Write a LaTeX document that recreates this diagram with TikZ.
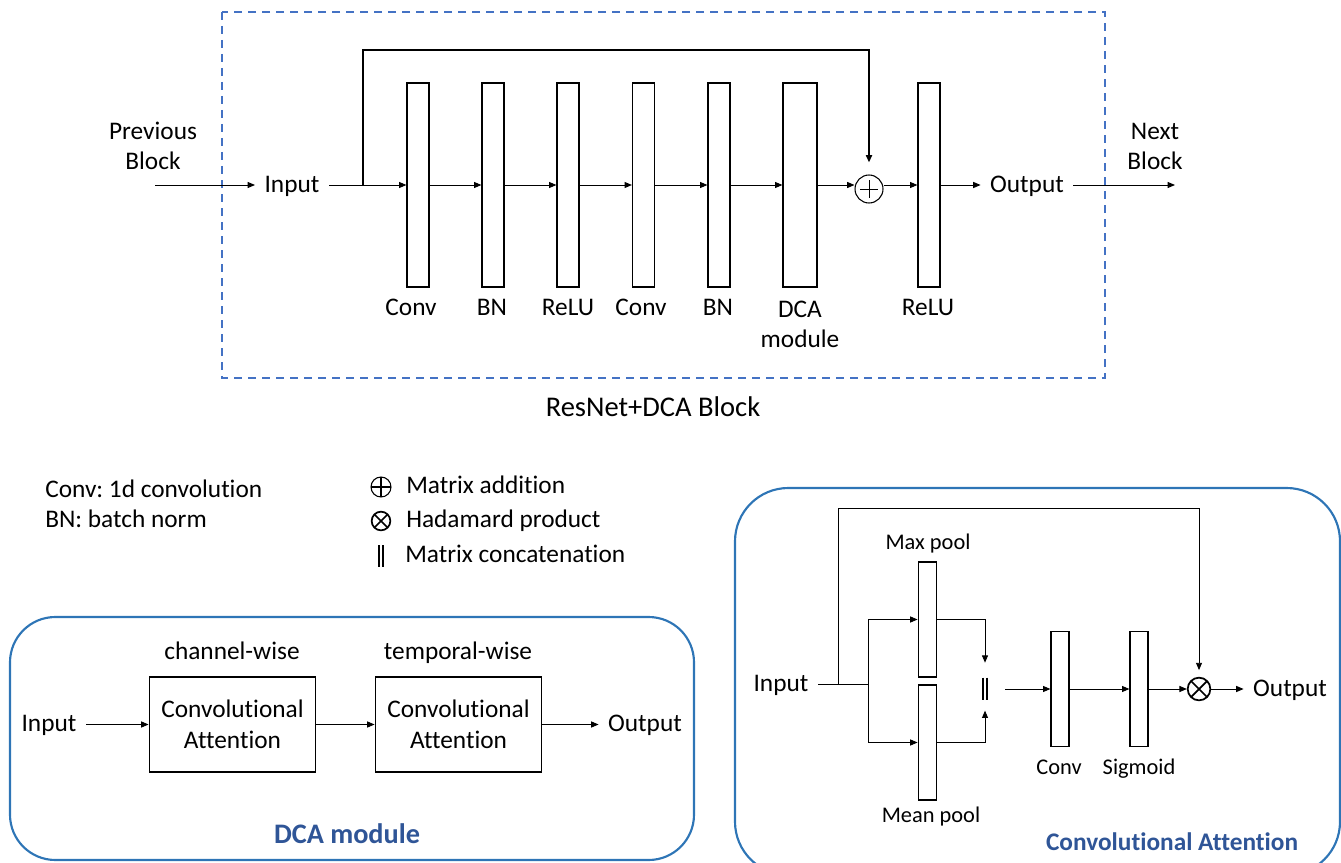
\documentclass[tikz,border=0pt]{standalone}
\usepackage{fontspec}
\setmainfont{Carlito}[Ligatures=NoCommon]
\usetikzlibrary{arrows.meta}
\definecolor{dashblue}{HTML}{4472C4}
\definecolor{frameblue}{HTML}{2E75B6}
\definecolor{titleblue}{HTML}{2F5597}
\frenchspacing
\begin{document}
\begin{tikzpicture}[x=0.75pt,y=-0.75pt,
  >={Triangle[length=5.5pt,width=4.5pt]},
  flow/.style={->, line width=0.7pt},
  plain/.style={line width=0.7pt},
  bar/.style={draw, fill=white, line width=0.9pt, inner sep=0, minimum width=16.5pt, minimum height=153pt},
  sbar/.style={draw, fill=white, line width=0.9pt, inner sep=0, minimum width=14pt, minimum height=86.25pt},
  txt/.style={inner xsep=7pt, inner ysep=0, text height=13pt, text depth=4pt, font=\fontsize{19}{22.5}\selectfont},
  mtxt/.style={inner xsep=7pt, inner ysep=0, align=center, font=\fontsize{19}{22.5}\selectfont},
  small/.style={inner sep=0, text height=12pt, text depth=3.5pt, font=\fontsize{16.8}{20}\selectfont},
  att/.style={draw, line width=0.9pt, minimum width=125pt, minimum height=71.25pt, inner sep=0, align=center, font=\fontsize{19}{23.25}\selectfont},
  oplus/.style={circle, draw, line width=0.8pt, inner sep=0, path picture={\draw[line width=0.8pt] (path picture bounding box.north) -- (path picture bounding box.south) (path picture bounding box.west) -- (path picture bounding box.east);}},
  addnode/.style={circle, draw, line width=0.8pt, inner sep=0, minimum size=21pt, path picture={\draw[line width=0.6pt] ([xshift=-6.5pt]path picture bounding box.center) -- ([xshift=6.5pt]path picture bounding box.center) ([yshift=-6.5pt]path picture bounding box.center) -- ([yshift=6.5pt]path picture bounding box.center);}},
  otimes/.style={circle, draw, line width=1.3pt, inner sep=0, path picture={\draw[line width=1.3pt] (path picture bounding box.north west) -- (path picture bounding box.south east) (path picture bounding box.north east) -- (path picture bounding box.south west);}},
  concat/.style={minimum width=6pt, inner sep=0, path picture={\draw[line width=1.2pt] ([xshift=-1.7pt]path picture bounding box.north) -- ([xshift=-1.7pt]path picture bounding box.south) ([xshift=1.7pt]path picture bounding box.north) -- ([xshift=1.7pt]path picture bounding box.south);}},
]
\useasboundingbox (0,0) rectangle (1341,863);

% ---------------- ResNet+DCA block ----------------
\draw[dashblue, line width=1.5pt, dash pattern=on 6pt off 4.5pt] (222,12) rectangle (1105,378);
\node[font=\fontsize{21.4}{25}\selectfont] (title1) at (653,407) {ResNet+DCA Block};

\node[mtxt] (prev) at (153,146) {Previous\\Block};
\coordinate (prevstart) at (155,185);
\node[txt] (in) at (292,186) {Input};

\node[bar] (c1) at (418,185) {};
\node[bar] (bn1) at (493,185) {};
\node[bar] (r1) at (568,185) {};
\node[bar] (c2) at (643.5,185) {};
\node[bar] (bn2) at (719,185) {};
\node[bar, minimum width=25.5pt] (dca) at (800,185) {};
\node[addnode] (add) at (869,189) {};
\node[bar] (r2) at (929,185) {};
\node[txt] (out) at (1027,186) {Output};
\node[mtxt] (next) at (1155,146) {Next\\Block};
\coordinate (nextend) at (1175,185);

\node[txt] (lc1) at (411,309) {Conv};
\node[txt] (lbn1) at (492,309) {BN};
\node[txt] (lr1) at (568,309) {ReLU};
\node[txt] (lc2) at (641,309) {Conv};
\node[txt] (lbn2) at (718,309) {BN};
\node[mtxt] (ldca) at (800,324) {DCA\\module};
\node[txt] (lr2) at (928,309) {ReLU};

\draw[flow] (prevstart) -- (prevstart -| in.west);
\draw[flow] (in.east |- c1.west) -- (c1.west);
\draw[flow] (c1.east) -- (bn1.west);
\draw[flow] (bn1.east) -- (r1.west);
\draw[flow] (r1.east) -- (c2.west);
\draw[flow] (c2.east) -- (bn2.west);
\draw[flow] (bn2.east) -- (dca.west);
\draw[flow] (dca.east) -- (dca.east -| add.west);
\draw[flow] (r2.west -| add.east) -- (r2.west);
\draw[flow] (r2.east) -- (r2.east -| out.west);
\draw[flow] (out.east |- nextend) -- (nextend);
\coordinate (sk) at (363,185);
\coordinate (sktop) at (869,50);
\draw[->, line width=1.3pt, shorten >=9pt] (sk) |- (sktop) -- (add.north);

% ---------------- Legend ----------------
\node[txt, anchor=west, inner xsep=0] (lg1) at (45,491) {Conv: 1d convolution};
\node[txt, anchor=west, inner xsep=0] (lg2) at (45,521) {BN: batch norm};
\node[oplus, minimum size=15pt] (sa) at (381,487) {};
\node[otimes, minimum size=14pt] (sm) at (381,521) {};
\node[concat, minimum height=16pt] (sc) at (381,556) {};
\node[txt, anchor=west, inner xsep=0] (la) at (406,487) {Matrix addition};
\node[txt, anchor=west, inner xsep=0] (lm) at (406,521) {Hadamard product};
\node[txt, anchor=west, inner xsep=0] (lcat) at (405,556) {Matrix concatenation};

% ---------------- DCA module ----------------
\draw[frameblue, line width=1.6pt, rounded corners=34pt] (10,617) rectangle (694,860);
\node[txt] (din) at (49,725) {Input};
\node[att] (ca1) at (232.5,724.5) {Convolutional\\Attention};
\node[att] (ca2) at (458.5,724.5) {Convolutional\\Attention};
\node[txt] (dout) at (645,725) {Output};
\node[txt] (lcw) at (232,653) {channel-wise};
\node[txt] (ltw) at (458,653) {temporal-wise};
\node[font=\bfseries\fontsize{21.2}{25}\selectfont, text=titleblue] (t2) at (347,834) {DCA module};
\draw[flow] (din.east |- ca1.west) -- (ca1.west);
\draw[flow] (ca1.east) -- (ca2.west);
\draw[flow] (ca2.east) -- (ca2.east -| dout.west);

% ---------------- Convolutional Attention ----------------
\draw[frameblue, line width=1.6pt, rounded corners=40pt] (735,488) rectangle (1340,875);
\node[txt] (cin) at (781,685) {Input};
\coordinate (cj1) at (838,684);
\coordinate (cj2) at (868,684);
\node[sbar] (maxp) at (927.5,619.5) {};
\node[sbar] (meanp) at (927.5,742.5) {};
\node[small] (lmax) at (928,544) {Max pool};
\node[small] (lmean) at (931,817) {Mean pool};
\node[concat, minimum height=17pt] (cc) at (985,689) {};
\node[sbar, minimum width=13.5pt] (cconv) at (1060,689) {};
\node[sbar, minimum width=13.5pt] (csig) at (1139,689) {};
\node[otimes, minimum size=17pt] (mul) at (1199,689) {};
\node[txt] (cout) at (1290,690) {Output};
\node[small] (lconv) at (1059,769) {Conv};
\node[small] (lsig) at (1139,769) {Sigmoid};
\node[font=\bfseries\fontsize{19}{23}\selectfont, text=titleblue] (t3) at (1172,842) {Convolutional Attention};

\coordinate (ctop) at (1199,508);
\draw[plain] (cin.east |- cj2) -- (cj2);
\draw[flow] (cj2) |- (maxp.west);
\draw[flow] (cj2) |- (meanp.west);
\draw[flow, shorten >=11pt] (maxp.east) -| (cc.north);
\draw[flow, shorten >=7.5pt] (meanp.east) -| (cc.south);
\draw[flow, shorten <=12pt] (cc.east) -- (cconv.west);
\draw[flow] (cconv.east) -- (csig.west);
\draw[flow] (csig.east) -- (mul.west);
\draw[flow] (mul.east) -- (mul.east -| cout.west);
\draw[flow, shorten >=5pt] (cj1) |- (ctop) -- (mul.north);
\end{tikzpicture}
\end{document}
